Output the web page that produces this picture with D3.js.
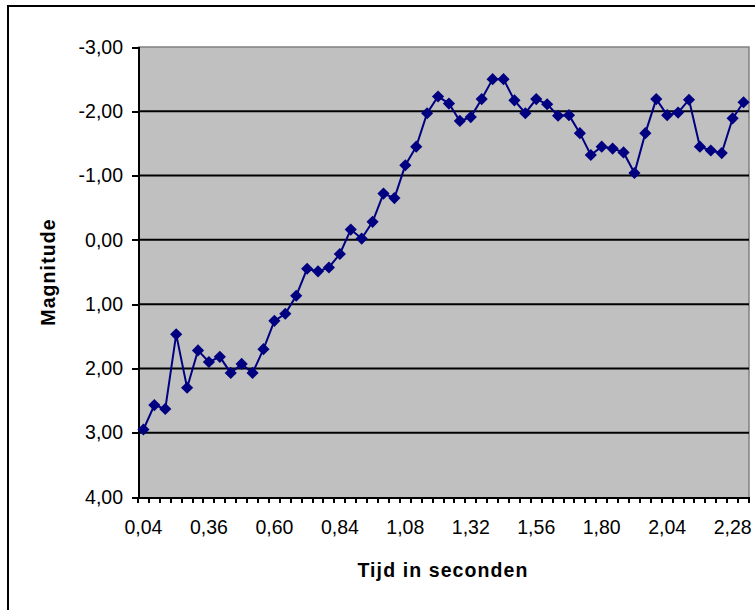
<!DOCTYPE html>
<meta charset="utf-8">
<style>
body { margin: 0; background: #fff; }
svg { display: block; }
.axis text { font: 19.5px "Liberation Sans", Arial, sans-serif; fill: #000; }
.axis path, .axis line { stroke: #000; shape-rendering: crispEdges; }
.title { font: bold 19.5px "Liberation Sans", Arial, sans-serif; letter-spacing: 1.1px; fill: #000; }
</style>
<body>
<script src="https://d3js.org/d3.v7.min.js"></script>
<script>

// time in seconds (category axis)
var times = [0.04, 0.08, 0.16, 0.20, 0.24, 0.32, 0.36, 0.40, 0.44, 0.48,
  0.52, 0.56, 0.60, 0.64, 0.68, 0.72, 0.76, 0.80, 0.84, 0.88,
  0.92, 0.96, 1.00, 1.04, 1.08, 1.12, 1.16, 1.20, 1.24, 1.28,
  1.32, 1.36, 1.40, 1.44, 1.48, 1.52, 1.56, 1.60, 1.64, 1.68,
  1.72, 1.76, 1.80, 1.84, 1.88, 1.92, 1.96, 2.00, 2.04, 2.08,
  2.12, 2.16, 2.20, 2.24, 2.28, 2.32];

// magnitude
var magnitude = [2.95, 2.57, 2.63, 1.47, 2.30, 1.72, 1.90, 1.82, 2.07, 1.93,
  2.07, 1.70, 1.26, 1.15, 0.87, 0.45, 0.49, 0.43, 0.22, -0.16,
  -0.02, -0.28, -0.72, -0.65, -1.16, -1.45, -1.97, -2.23, -2.12, -1.85,
  -1.91, -2.19, -2.50, -2.50, -2.17, -1.97, -2.19, -2.11, -1.93, -1.94,
  -1.66, -1.32, -1.45, -1.42, -1.36, -1.04, -1.66, -2.19, -1.94, -1.98,
  -2.18, -1.45, -1.39, -1.35, -1.89, -2.14];

var yTicks = [-3, -2, -1, 0, 1, 2, 3, 4];

var width = 755, height = 610;
var plot = {left: 138, right: 749, top: 47, bottom: 497};

var svg = d3.select("body").append("svg")
    .attr("width", width)
    .attr("height", height);

// outer chart border
svg.append("rect")
    .attr("x", 8).attr("y", 6)
    .attr("width", 800).attr("height", 700)
    .attr("fill", "#fff")
    .attr("stroke", "#000")
    .attr("stroke-width", 2);

var x = d3.scaleBand()
    .domain(times)
    .range([plot.left, plot.right]);

var y = d3.scaleLinear()
    .domain([-3, 4])
    .range([plot.top, plot.bottom]);

var fmt = function(d) { return d3.format(".2f")(d).replace(".", ",").replace("−", "-"); };

// plot area
svg.append("rect")
    .attr("x", plot.left).attr("y", plot.top)
    .attr("width", plot.right - plot.left).attr("height", plot.bottom - plot.top)
    .attr("fill", "#c0c0c0");
svg.append("path")
    .attr("d", "M" + plot.left + "," + plot.top + "H" + plot.right + "V" + plot.bottom)
    .attr("fill", "none")
    .attr("stroke", "#808080")
    .attr("stroke-width", 1.5);

// gridlines
svg.append("g")
  .selectAll("line")
    .data(yTicks.slice(1, -1))
  .enter().append("line")
    .attr("x1", plot.left).attr("x2", plot.right)
    .attr("y1", function(d) { return y(d); })
    .attr("y2", function(d) { return y(d); })
    .attr("stroke", "#000")
    .attr("stroke-width", 2);

// y axis
var yAxis = d3.axisLeft(y).tickValues(yTicks).tickSize(6).tickPadding(9).tickFormat(fmt);
var gy = svg.append("g")
    .attr("class", "axis")
    .attr("transform", "translate(" + plot.left + ",0)")
    .call(yAxis);
gy.select(".domain").attr("stroke-width", 2);
gy.selectAll(".tick line").attr("stroke-width", 2);

// x axis: labels every 6th category
var xAxis = d3.axisBottom(x)
    .tickValues(times.filter(function(d, i) { return i % 6 === 0; }))
    .tickSize(0).tickPadding(23)
    .tickFormat(fmt);
var gx = svg.append("g")
    .attr("class", "axis")
    .attr("transform", "translate(0," + plot.bottom + ")")
    .call(xAxis);
gx.select(".domain").attr("stroke-width", 2);

// x tick marks between categories
svg.append("g")
  .selectAll("line")
    .data(times.concat(["end"]))
  .enter().append("line")
    .attr("x1", function(d) { return d === "end" ? plot.right : x(d); })
    .attr("x2", function(d) { return d === "end" ? plot.right : x(d); })
    .attr("y1", plot.bottom).attr("y2", plot.bottom + 6)
    .attr("stroke", "#000")
    .attr("stroke-width", 2)
    .attr("shape-rendering", "crispEdges");

// axis titles
svg.append("text")
    .attr("class", "title")
    .attr("x", 443).attr("y", 577)
    .attr("text-anchor", "middle")
    .text("Tijd in seconden");

svg.append("text")
    .attr("class", "title")
    .attr("transform", "translate(55,272) rotate(-90)")
    .attr("text-anchor", "middle")
    .text("Magnitude");

// series
var data = times.map(function(t, i) { return {t: t, v: magnitude[i]}; });
var cx = function(d) { return x(d.t) + x.bandwidth() / 2; };

svg.append("path")
    .datum(data)
    .attr("fill", "none")
    .attr("stroke", "#000080")
    .attr("stroke-width", 2)
    .attr("d", d3.line().x(cx).y(function(d) { return y(d.v); }));

svg.append("g")
  .selectAll("path")
    .data(data)
  .enter().append("path")
    .attr("d", d3.symbol().type(d3.symbolSquare).size(74))
    .attr("transform", function(d) { return "translate(" + cx(d) + "," + y(d.v) + ") rotate(45)"; })
    .attr("fill", "#000080");

</script>
</body>
